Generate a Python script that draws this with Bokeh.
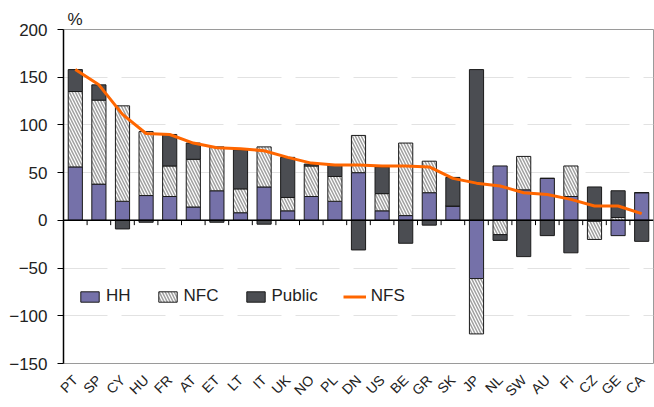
import math
from bokeh.plotting import figure
from bokeh.models import Span, Legend, LegendItem, FixedTicker
from bokeh.embed import file_html
from bokeh.resources import INLINE

countries = ["PT", "SP", "CY", "HU", "FR", "AT", "ET", "LT", "IT", "UK", "NO", "PL", "DN",
             "US", "BE", "GR", "SK", "JP", "NL", "SW", "AU", "FI", "CZ", "GE", "CA"]
hh = [56, 38, 20, 26, 25, 14, 31, 8, 35, 10, 25, 20, 50, 10, 5, 29, 15, -61, 57, 32, 44, 25, -1, -16, 29]
nfc = [79, 88, 100, 67, 32, 50, 46, 25, 42, 14, 32, 26, 39, 18, 76, 33, 0, -58, -15, 35, 0, 32, -19, 3, 0]
public = [23, 16, -9, -2, 33, 17, -2, 41, -4, 42, 2, 12, -31, 28, -24, -5, 30, 158, -6, -38, -16, -34, 35, 28, -22]
nfs = [158, 142, 111, 91, 90, 81, 76, 75, 73, 66, 60, 58, 58, 57, 57, 56, 44, 39, 36, 29, 27, 22, 15, 15, 7]
y_ticks = [-150, -100, -50, 0, 50, 100, 150, 200]

FONT = "Liberation Sans, Arial, sans-serif"
C_HH = "#7571A9"
C_PUB = "#4B4D52"
C_NFS = "#FF6600"

xs = list(range(len(countries)))

# Excel-style stacking: positives upward, negatives downward
pos_base = [0.0] * len(xs)
neg_base = [0.0] * len(xs)
stacks = []
for series in (hh, nfc, public):
    bottoms, tops = [], []
    for i, v in enumerate(series):
        if v >= 0:
            bottoms.append(pos_base[i]); tops.append(pos_base[i] + v); pos_base[i] += v
        else:
            bottoms.append(neg_base[i]); tops.append(neg_base[i] + v); neg_base[i] += v
    stacks.append((bottoms, tops))

p = figure(width=654, height=407, x_range=(-0.5, len(xs) - 0.5), y_range=(-150, 200),
           output_backend="svg", toolbar_location=None,
           min_border_left=63, min_border_right=1, min_border_top=29, min_border_bottom=44)

p.title.text = "%"
p.title.align = "left"
p.title.offset = 4
p.title.standoff = 1
p.title.text_font = FONT
p.title.text_font_size = "17px"
p.title.text_font_style = "normal"
p.title.text_color = "#222222"

p.outline_line_color = "#9a9a9a"
p.outline_line_width = 1
p.xgrid.visible = False
p.ygrid.ticker = FixedTicker(ticks=[t for t in y_ticks if t not in (0, 200, -150)])
p.ygrid.grid_line_color = "#e2e2e2"
p.ygrid.grid_line_dash = "44 14"
p.ygrid.grid_line_width = 1

p.yaxis.ticker = FixedTicker(ticks=y_ticks)
p.yaxis.axis_line_color = "black"
p.yaxis.axis_line_width = 1.5
p.yaxis.major_tick_line_color = "black"
p.yaxis.major_tick_out = 6
p.yaxis.major_tick_in = 0
p.yaxis.minor_tick_line_color = None
p.yaxis.major_label_text_font = FONT
p.yaxis.major_label_text_font_size = "17px"
p.yaxis.major_label_text_color = "#222222"
p.yaxis.major_label_standoff = 10

p.xaxis.ticker = FixedTicker(ticks=xs)
p.xaxis.major_label_overrides = {i: c for i, c in zip(xs, countries)}
p.xaxis.major_label_orientation = math.pi / 4
p.xaxis.axis_line_color = None
p.xaxis.major_tick_line_color = None
p.xaxis.minor_tick_line_color = None
p.xaxis.major_label_text_font = FONT
p.xaxis.major_label_text_font_size = "14px"
p.xaxis.major_label_text_color = "#222222"
p.xaxis.major_label_standoff = 8

r_hh = p.vbar(x=xs, width=0.6, bottom=stacks[0][0], top=stacks[0][1],
              fill_color=C_HH, line_color="#1a1a1a", line_width=1)
r_nfc = p.vbar(x=xs, width=0.6, bottom=stacks[1][0], top=stacks[1][1],
               fill_color="white", hatch_pattern="\\", hatch_color="#a0a0a0",
               hatch_weight=1.5, hatch_scale=6, line_color="#1a1a1a", line_width=1)
r_pub = p.vbar(x=xs, width=0.6, bottom=stacks[2][0], top=stacks[2][1],
               fill_color=C_PUB, line_color="#1a1a1a", line_width=1)

bounds = [i + 0.5 for i in xs[:-1]]
p.segment(x0=bounds, y0=[0] * len(bounds), x1=bounds, y1=[-5] * len(bounds),
          line_color="black", line_width=1)
p.add_layout(Span(location=0, dimension="width", line_color="black", line_width=1.5))

r_nfs = p.line(xs, nfs, line_color=C_NFS, line_width=3)

legend = Legend(items=[LegendItem(label="HH", renderers=[r_hh]),
                       LegendItem(label="NFC", renderers=[r_nfc]),
                       LegendItem(label="Public", renderers=[r_pub]),
                       LegendItem(label="NFS", renderers=[r_nfs])],
                orientation="horizontal", location=(15, 57),
                border_line_color=None, background_fill_alpha=0,
                glyph_width=23, glyph_height=13, label_text_font=FONT,
                label_text_font_size="17px", label_text_color="#222222",
                spacing=25, label_standoff=5, padding=0, margin=0)
p.add_layout(legend)

open("out.html", "w").write(file_html(p, INLINE))
